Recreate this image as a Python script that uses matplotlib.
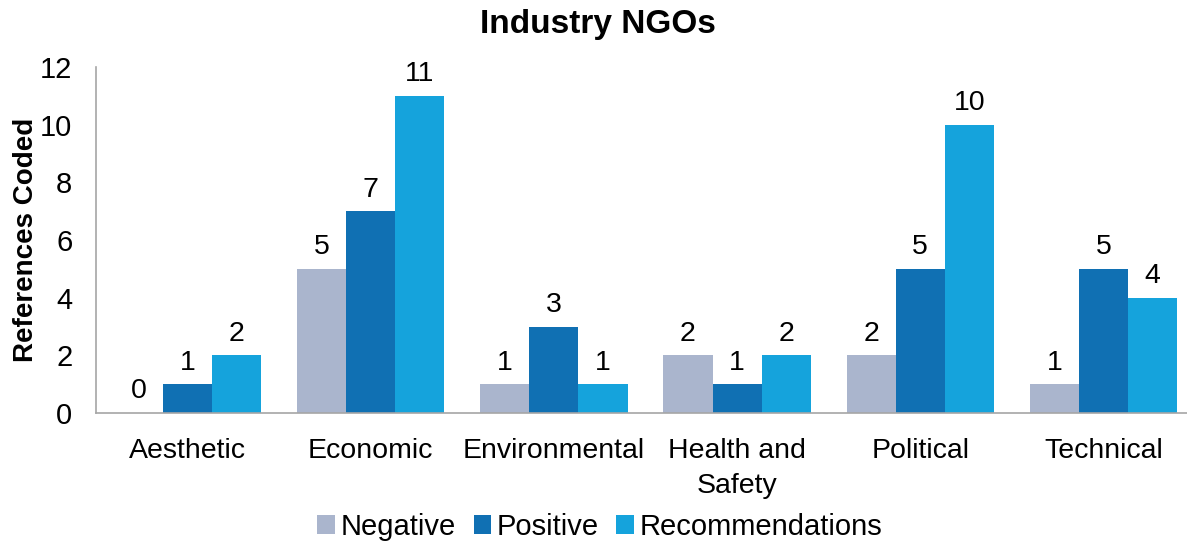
import matplotlib
matplotlib.use("Agg")
import matplotlib.pyplot as plt
import numpy as np

categories = ["Aesthetic", "Economic", "Environmental", "Health and\nSafety", "Political", "Technical"]
negative = [0, 5, 1, 2, 2, 1]
positive = [1, 7, 3, 1, 5, 5]
recommendations = [2, 11, 1, 2, 10, 4]
series = [("Negative", negative, "#AAB5CD"),
          ("Positive", positive, "#1070B3"),
          ("Recommendations", recommendations, "#15A3DC")]

plt.rcParams['font.family'] = ['Liberation Sans', 'DejaVu Sans']

W, H = 1187, 547
fig = plt.figure(figsize=(W/100, H/100), dpi=100)
ax = fig.add_axes([96/W, (H-413)/H, 1099/W, (413-67)/H])

x = np.arange(len(categories))
bw = 0.268
for i, (name, vals, col) in enumerate(series):
    pos = x + (i-1)*bw
    bars = ax.bar(pos, vals, bw, color=col, label=name)
    for xp, v in zip(pos, vals):
        ax.text(xp, v + 0.3, str(v), ha='center', va='bottom', fontsize=20.5)

ax.set_xlim(-0.5, 5.5)
ax.set_ylim(0, 12)
ax.set_yticks(range(0, 13, 2))
ax.set_xticks(x)
ax.set_xticklabels(categories, fontsize=20.5, linespacing=1.45)
ax.tick_params(axis='y', labelsize=21, length=0, pad=17)
ax.tick_params(axis='x', length=0, pad=18)
for s in ['top', 'right']:
    ax.spines[s].set_visible(False)
for s in ['left', 'bottom']:
    ax.spines[s].set_color('#A6A6A6')
    ax.spines[s].set_linewidth(1.2)
ax.set_ylabel("References Coded", fontsize=20, fontweight='bold', labelpad=1)
fig.text(598/W, 1-24/H, "Industry NGOs", ha='center', va='center', fontsize=24, fontweight='bold')
ax.legend(loc='center', bbox_to_anchor=(600/W, 20/H), bbox_transform=fig.transFigure,
          ncol=3, frameon=False, fontsize=21, handlelength=0.6, handleheight=0.6,
          handletextpad=0.2, columnspacing=0.6)
fig.savefig("out.png", dpi=100)
